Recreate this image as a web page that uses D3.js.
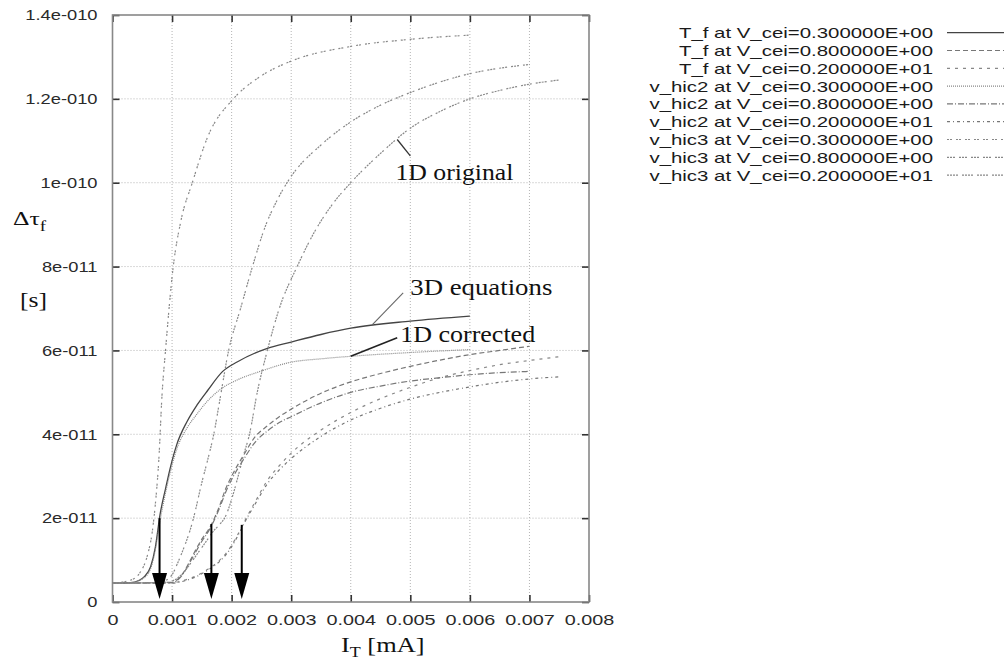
<!doctype html>
<html>
<head>
<meta charset="utf-8">
<script src="https://d3js.org/d3.v7.min.js"></script>
<style>
 body { margin:0; background:#fff; }
 text { font-family:"Liberation Sans", Arial, sans-serif; }
 .serif { font-family:"Liberation Serif", "Times New Roman", serif; }
</style>
</head>
<body>
<script>
// I_T in mA, delta tau_f in units of 1e-11 s
var unit = 1e-11;
var xTicks = [0,0.001,0.002,0.003,0.004,0.005,0.006,0.007,0.008];
var xTickLabels = ["0","0.001","0.002","0.003","0.004","0.005","0.006","0.007","0.008"];
var yTicks = [0,2,4,6,8,10,12,14];
var yTickLabels = ["0","2e-011","4e-011","6e-011","8e-011","1e-010","1.2e-010","1.4e-010"];

var tf03 = [[0,0.45],[0.0003,0.46],[0.00045,0.52],[0.00053,0.6],[0.00064,0.84],[0.00072,1.31],[0.0008,2.1],[0.00089,2.7],[0.00097,3.2],[0.00108,3.76],[0.00125,4.3],[0.00142,4.7],[0.0016,5.05],[0.00185,5.5],[0.0021,5.73],[0.0026,6.05],[0.003,6.2],[0.0035,6.38],[0.004,6.53],[0.005,6.7],[0.006,6.82]];
var tf08 = [[0,0.45],[0.001,0.47],[0.0011,0.55],[0.0012,0.72],[0.0013,0.98],[0.0014,1.25],[0.0015,1.5],[0.0016,1.7],[0.00166,1.85],[0.0018,2.3],[0.0019,2.7],[0.002,3.0],[0.0022,3.5],[0.0024,3.95],[0.0026,4.2],[0.0028,4.42],[0.003,4.6],[0.0035,4.98],[0.004,5.25],[0.0045,5.45],[0.005,5.62],[0.0055,5.77],[0.006,5.9],[0.0065,6.0],[0.007,6.1]];
var tf20 = [[0,0.45],[0.001,0.46],[0.0012,0.52],[0.0014,0.62],[0.0016,0.78],[0.0018,1.0],[0.0019,1.15],[0.002,1.35],[0.0021,1.6],[0.0022,1.88],[0.0024,2.4],[0.0026,2.9],[0.0028,3.25],[0.003,3.55],[0.0035,4.1],[0.004,4.52],[0.0045,4.85],[0.005,5.12],[0.0055,5.35],[0.006,5.52],[0.0065,5.66],[0.007,5.76],[0.0075,5.85]];
var vh2_03 = [[0,0.45],[0.0003,0.46],[0.0005,0.55],[0.00064,0.8],[0.00072,1.25],[0.0008,1.95],[0.00089,2.6],[0.00097,3.1],[0.00108,3.65],[0.00125,4.15],[0.0014,4.45],[0.0016,4.8],[0.00184,5.1],[0.0021,5.3],[0.00248,5.5],[0.003,5.72],[0.0035,5.8],[0.004,5.86],[0.005,5.95],[0.006,6.02]];
var vh2_08 = [[0,0.45],[0.001,0.46],[0.0011,0.53],[0.0012,0.7],[0.0013,0.95],[0.0014,1.2],[0.0015,1.45],[0.0016,1.66],[0.0018,2.25],[0.0019,2.62],[0.002,2.92],[0.0022,3.4],[0.0024,3.82],[0.0026,4.08],[0.0028,4.28],[0.003,4.42],[0.0035,4.75],[0.004,5.0],[0.0045,5.15],[0.005,5.27],[0.0055,5.35],[0.006,5.42],[0.0065,5.47],[0.007,5.5]];
var vh2_20 = [[0,0.45],[0.001,0.45],[0.0012,0.5],[0.0014,0.6],[0.0016,0.76],[0.0018,0.97],[0.0019,1.12],[0.002,1.32],[0.0021,1.57],[0.0022,1.85],[0.0024,2.35],[0.0026,2.82],[0.0028,3.15],[0.003,3.42],[0.0035,3.95],[0.004,4.34],[0.0045,4.62],[0.005,4.84],[0.0055,5.0],[0.006,5.13],[0.0065,5.24],[0.007,5.32],[0.0075,5.37]];
var vh3_03 = [[0,0.45],[0.0003,0.52],[0.00047,0.72],[0.00058,1.08],[0.00067,1.7],[0.00072,2.34],[0.00078,3.45],[0.00083,4.9],[0.00089,6.0],[0.00102,8.0],[0.00115,9.1],[0.00134,10.0],[0.0016,11.1],[0.00203,12.0],[0.0025,12.55],[0.003,12.9],[0.004,13.25],[0.005,13.42],[0.006,13.52]];
var vh3_08 = [[0,0.45],[0.0008,0.47],[0.0009,0.52],[0.001,0.65],[0.0011,0.95],[0.0012,1.3],[0.0013,1.7],[0.00136,2.0],[0.0015,2.85],[0.0016,3.4],[0.0017,4.0],[0.0018,4.8],[0.00195,6.0],[0.00215,7.0],[0.00235,8.0],[0.00255,8.9],[0.00277,9.6],[0.003,10.15],[0.0035,10.9],[0.004,11.45],[0.0045,11.85],[0.005,12.15],[0.006,12.6],[0.007,12.82]];
var vh3_20 = [[0,0.45],[0.0009,0.47],[0.001,0.5],[0.0011,0.58],[0.0012,0.72],[0.0013,0.9],[0.0014,1.1],[0.0015,1.3],[0.0016,1.5],[0.0017,1.7],[0.0018,1.85],[0.0019,2.05],[0.002,2.45],[0.0021,2.95],[0.0022,3.5],[0.0023,4.0],[0.00243,5.0],[0.0026,6.0],[0.0028,7.0],[0.0031,8.0],[0.0034,8.85],[0.0037,9.5],[0.004,10.0],[0.0045,10.7],[0.005,11.3],[0.0055,11.7],[0.006,12.0],[0.0065,12.2],[0.007,12.35],[0.0075,12.45]];

var seriesNames = ["T_f at V_cei=0.300000E+00","T_f at V_cei=0.800000E+00","T_f at V_cei=0.200000E+01",
  "v_hic2 at V_cei=0.300000E+00","v_hic2 at V_cei=0.800000E+00","v_hic2 at V_cei=0.200000E+01",
  "v_hic3 at V_cei=0.300000E+00","v_hic3 at V_cei=0.800000E+00","v_hic3 at V_cei=0.200000E+01"];
var seriesData = [tf03, tf08, tf20, vh2_03, vh2_08, vh2_20, vh3_03, vh3_08, vh3_20];
var dashes = ["none","5,3","3,5","1,1","6,2,1,2","3,3,1,3","2,1,2,4","2,1,2,1,2,4","2,1,2,1,2,1,2,4"];
var colors = ["#444","#777","#888","#888","#777","#777","#888","#888","#888"];

// arrows marking onsets
var arrowI = [0.00079, 0.00166, 0.00217];
var arrowTop = [2.0, 1.86, 1.84];
var arrowTip = 0.07;

var svg = d3.select("body").append("svg").attr("width",1004).attr("height",660);

var x = d3.scaleLinear().domain([0,0.008]).range([112.5,589]);
var y = d3.scaleLinear().domain([0,14*unit]).range([602,15]);

function widen(sel, k) {
  sel.each(function(){
    var w = this.getComputedTextLength();
    d3.select(this).attr("textLength", w*k).attr("lengthAdjust","spacingAndGlyphs");
  });
}

// grid
svg.append("g").selectAll("line").data(xTicks.slice(1,-1)).join("line")
  .attr("x1",d=>x(d)).attr("x2",d=>x(d)).attr("y1",y(0)).attr("y2",y(14*unit))
  .attr("stroke","#b4b4b4").attr("stroke-dasharray","1,2");
svg.append("g").selectAll("line").data(yTicks.slice(1,-1)).join("line")
  .attr("x1",x(0)).attr("x2",x(0.008)).attr("y1",d=>y(d*unit)).attr("y2",d=>y(d*unit))
  .attr("stroke","#b4b4b4").attr("stroke-dasharray","1,2");

// axes
var gx = svg.append("g").attr("transform","translate(0,"+y(0)+")")
  .call(d3.axisBottom(x).tickValues(xTicks).tickFormat((d,i)=>xTickLabels[i]).tickSize(-7).tickSizeOuter(0).tickPadding(12));
var gy = svg.append("g").attr("transform","translate("+x(0)+",0)")
  .call(d3.axisLeft(y).tickValues(yTicks.map(d=>d*unit)).tickFormat((d,i)=>yTickLabels[i]).tickSize(-7).tickSizeOuter(0).tickPadding(15));
var gt = svg.append("g").attr("transform","translate(0,"+y(14*unit)+")")
  .call(d3.axisTop(x).tickValues(xTicks).tickFormat("").tickSize(-7).tickSizeOuter(0));
var gr = svg.append("g").attr("transform","translate("+x(0.008)+",0)")
  .call(d3.axisRight(y).tickValues(yTicks.map(d=>d*unit)).tickFormat("").tickSize(-7).tickSizeOuter(0));
[gx,gy,gt,gr].forEach(function(g){
  g.select(".domain").remove();
  g.selectAll(".tick line").attr("stroke","#333").attr("stroke-width",1.6);
  g.selectAll(".tick text").attr("fill","#2a2a2a").style("font-size","15px");
});
widen(gx.selectAll(".tick text"), 1.32);
widen(gy.selectAll(".tick text"), 1.22);

svg.append("rect").attr("x",x(0)).attr("y",y(14*unit))
  .attr("width",x(0.008)-x(0)).attr("height",y(0)-y(14*unit))
  .attr("fill","none").attr("stroke","#888").attr("stroke-width",1.6);

// curves
var line = d3.line().x(d=>x(d[0])).y(d=>y(d[1]*unit)).curve(d3.curveMonotoneX);
svg.append("g").selectAll("path").data(seriesData).join("path")
  .attr("d",line).attr("fill","none")
  .attr("stroke",(d,i)=>colors[i])
  .attr("stroke-width",(d,i)=>i==0?1.3:1.2)
  .attr("stroke-dasharray",(d,i)=>dashes[i]);

// arrows
var ga = svg.append("g");
arrowI.forEach(function(a,i){
  ga.append("line").attr("x1",x(a)).attr("x2",x(a))
    .attr("y1",y(arrowTop[i]*unit)).attr("y2",y(arrowTip*unit)-18)
    .attr("stroke","#000").attr("stroke-width",2);
  var tx = x(a), ty = y(arrowTip*unit);
  ga.append("path").attr("d","M"+(tx-7.5)+","+(ty-26)+"L"+(tx+7.5)+","+(ty-26)+"L"+tx+","+ty+"Z")
    .attr("fill","#000");
});

// annotations
function note(txt, ix, iv, len) {
  var t = svg.append("text").attr("class","serif").attr("x",x(ix)).attr("y",y(iv*unit))
    .style("font-size","23px").attr("fill","#111").text(txt);
  t.attr("textLength",len).attr("lengthAdjust","spacingAndGlyphs");
}
function leader(a, b, col, w) {
  svg.append("line").attr("x1",x(a[0])).attr("y1",y(a[1]*unit))
    .attr("x2",x(b[0])).attr("y2",y(b[1]*unit)).attr("stroke",col).attr("stroke-width",w);
}
leader([0.00478,11.03],[0.005,10.64],"#333",1.3);
note("1D original",0.00475,10.07,118);
leader([0.00436,6.61],[0.00488,7.37],"#666",1.1);
note("3D equations",0.005,7.33,142);
leader([0.004,5.86],[0.00478,6.3],"#222",1.6);
note("1D corrected",0.00483,6.2,135);

// axis titles
var yl = svg.append("g").attr("transform","translate(13,225) scale(1.35,1)");
var ylt = yl.append("text").attr("class","serif").style("font-size","19px").attr("fill","#111");
ylt.append("tspan").text("\u0394\u03c4");
ylt.append("tspan").attr("dy",6).style("font-size","14px").text("f");
svg.append("g").attr("transform","translate(20,307) scale(1.22,1)")
  .append("text").attr("class","serif").style("font-size","21px").attr("fill","#111").text("[s]");
var xl = svg.append("g").attr("transform","translate(341,652) scale(1.2,1)");
var xlt = xl.append("text").attr("class","serif").style("font-size","22px").attr("fill","#111");
xlt.append("tspan").text("I");
xlt.append("tspan").attr("dy",5).style("font-size","15px").text("T");
xlt.append("tspan").attr("dy",-5).text(" [mA]");

// legend
var lg = svg.append("g");
seriesNames.forEach(function(n,i){
  var yy = 32.7 + i*17.8;
  var t = lg.append("text").attr("x",933).attr("y",yy).attr("dy","0.36em")
    .attr("text-anchor","end").style("font-size","15px").attr("fill","#1a1a1a").text(n);
  widen(t, 1.36);
  lg.append("line").attr("x1",947).attr("x2",1010).attr("y1",yy).attr("y2",yy)
    .attr("stroke",colors[i]).attr("stroke-width",1.2).attr("stroke-dasharray",dashes[i]);
});
</script>
</body>
</html>
